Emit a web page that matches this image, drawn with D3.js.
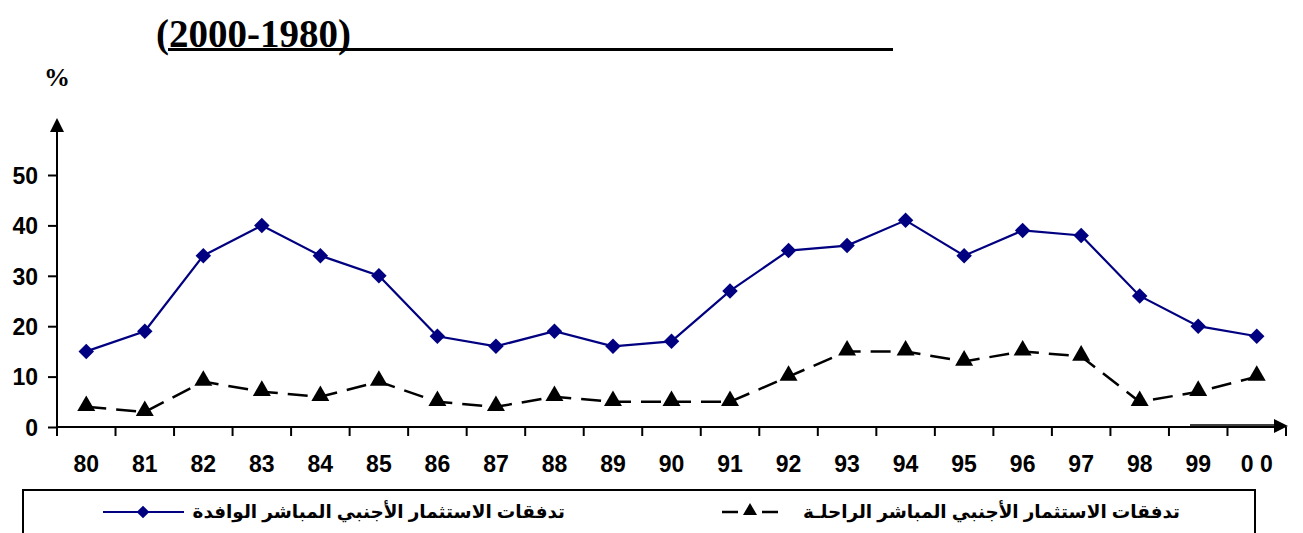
<!DOCTYPE html>
<html><head><meta charset="utf-8">
<script src="https://cdn.jsdelivr.net/npm/d3@7"></script>
<style>
body{margin:0;background:#fff}svg{display:block}
.sans{font-family:"Liberation Sans",Arial,sans-serif;font-weight:700}
.serif{font-family:"Liberation Serif","Times New Roman",serif;font-weight:700}
.ar{font-family:"Liberation Sans","DejaVu Sans",sans-serif;font-weight:700}
</style>
</head><body>
<svg id="c" width="1303" height="533"></svg>
<script>
const years = ["80","81","82","83","84","85","86","87","88","89","90","91","92","93","94","95","96","97","98","99","0 0"];
const inflow = [15,19,34,40,34,30,18,16,19,16,17,27,35,36,41,34,39,38,26,20,18];
const outflow = [4,3,9,7,6,9,5,4,6,5,5,5,10,15,15,13,15,14,5,7,10];
const yTicks = [0,10,20,30,40,50];
const titleText = "(2000-1980)";
const inflowLabel = "تدفقات الاستثمار الأجنبي  المباشر الوافدة";
const outflowLabel = "تدفقات الاستثمار الأجنبي المباشر الراحلـة";

const svg = d3.select("#c");
const x0 = 57, x1 = 1286, yBase = 427;
const x = d3.scaleBand().domain(years).range([x0, x1]).padding(0);
const y = d3.scaleLinear().domain([0, 50]).range([yBase, 175]);
const cx = d => x(d) + x.bandwidth()/2;

// title
svg.append("text").attr("class", "serif").attr("x", 156).attr("y", 47)
  .style("font-size", "39px").text(titleText);
svg.append("line").attr("x1", 168).attr("x2", 893).attr("y1", 49.5).attr("y2", 49.5)
  .attr("stroke", "#000").attr("stroke-width", 3);
svg.append("text").attr("class", "serif").attr("x", 44).attr("y", 86)
  .style("font-size", "26px").text("%");

// y axis
const yAxis = d3.axisLeft(y).tickValues(yTicks).tickSize(9).tickPadding(10);
const gy = svg.append("g").attr("transform", `translate(${x0},0)`).call(yAxis);
gy.select(".domain").remove();
gy.selectAll("line").attr("stroke", "#000").attr("stroke-width", 2);
gy.selectAll("text").attr("class", "sans").style("font-size", "23px").attr("fill", "#000")
  .attr("dy", "0.36em");
svg.append("line").attr("x1", x0).attr("x2", x0).attr("y1", 132).attr("y2", yBase)
  .attr("stroke", "#000").attr("stroke-width", 2);
svg.append("path").attr("d", `M${x0-7},132 L${x0+7},132 L${x0},118 Z`).attr("fill", "#000");

// x axis
const xAxis = d3.axisBottom(x).tickSize(0).tickPadding(29);
const gx = svg.append("g").attr("transform", `translate(0,${yBase})`).call(xAxis);
gx.select(".domain").remove();
gx.selectAll("text").attr("class", "sans").style("font-size", "23px").attr("fill", "#000");
svg.append("line").attr("x1", x0).attr("x2", 1276).attr("y1", yBase).attr("y2", yBase)
  .attr("stroke", "#000").attr("stroke-width", 2);
svg.append("line").attr("x1", 1190).attr("x2", 1276).attr("y1", yBase-2).attr("y2", yBase-2)
  .attr("stroke", "#000").attr("stroke-width", 1.5);
svg.append("path").attr("d", `M1274,${yBase-8} L1274,${yBase+6} L1288,${yBase-1} Z`).attr("fill", "#000");
const bounds = years.map(d => x(d)).concat([x1]);
svg.append("g").selectAll("line").data(bounds).join("line")
  .attr("x1", d => d).attr("x2", d => d).attr("y1", yBase).attr("y2", yBase+9)
  .attr("stroke", "#000").attr("stroke-width", 2);

// series
const navy = "#000080";
const line = d3.line().x((d,i) => cx(years[i])).y(d => y(d));
svg.append("path").datum(outflow).attr("d", line).attr("fill", "none")
  .attr("stroke", "#000").attr("stroke-width", 2.5).attr("stroke-dasharray", "20,10");
svg.append("path").datum(inflow).attr("d", line).attr("fill", "none")
  .attr("stroke", navy).attr("stroke-width", 2.2);
const tri = d3.symbol().type(d3.symbolTriangle).size(140);
svg.append("g").selectAll("path").data(inflow).join("path")
  .attr("transform", (d,i) => `translate(${cx(years[i])},${y(d)}) rotate(45)`)
  .attr("d", d3.symbol().type(d3.symbolSquare).size(120)).attr("fill", navy);
svg.append("g").selectAll("path").data(outflow).join("path")
  .attr("transform", (d,i) => `translate(${cx(years[i])},${y(d)-1})`)
  .attr("d", tri).attr("fill", "#000");

// legend
svg.append("rect").attr("x", 23).attr("y", 490).attr("width", 1232).attr("height", 60)
  .attr("fill", "none").attr("stroke", "#000").attr("stroke-width", 2);
const ly = 512;
svg.append("line").attr("x1", 103).attr("x2", 184).attr("y1", ly).attr("y2", ly)
  .attr("stroke", navy).attr("stroke-width", 2);
svg.append("path").attr("transform", `translate(143,${ly}) rotate(45)`)
  .attr("d", d3.symbol().type(d3.symbolSquare).size(80)).attr("fill", navy);
svg.append("text").attr("class", "ar").attr("x", 565).attr("y", ly+6).attr("text-anchor", "end")
  .style("font-size", "18.4px").text(inflowLabel);
svg.append("line").attr("x1", 722).attr("x2", 778).attr("y1", ly).attr("y2", ly)
  .attr("stroke", "#000").attr("stroke-width", 2.5).attr("stroke-dasharray", "16,24,16");
svg.append("path").attr("transform", `translate(750,${ly-1})`)
  .attr("d", d3.symbol().type(d3.symbolTriangle).size(85)).attr("fill", "#000");
svg.append("text").attr("class", "ar").attr("x", 1180).attr("y", ly+6).attr("text-anchor", "end")
  .style("font-size", "18.4px").text(outflowLabel);
</script>
</body></html>
